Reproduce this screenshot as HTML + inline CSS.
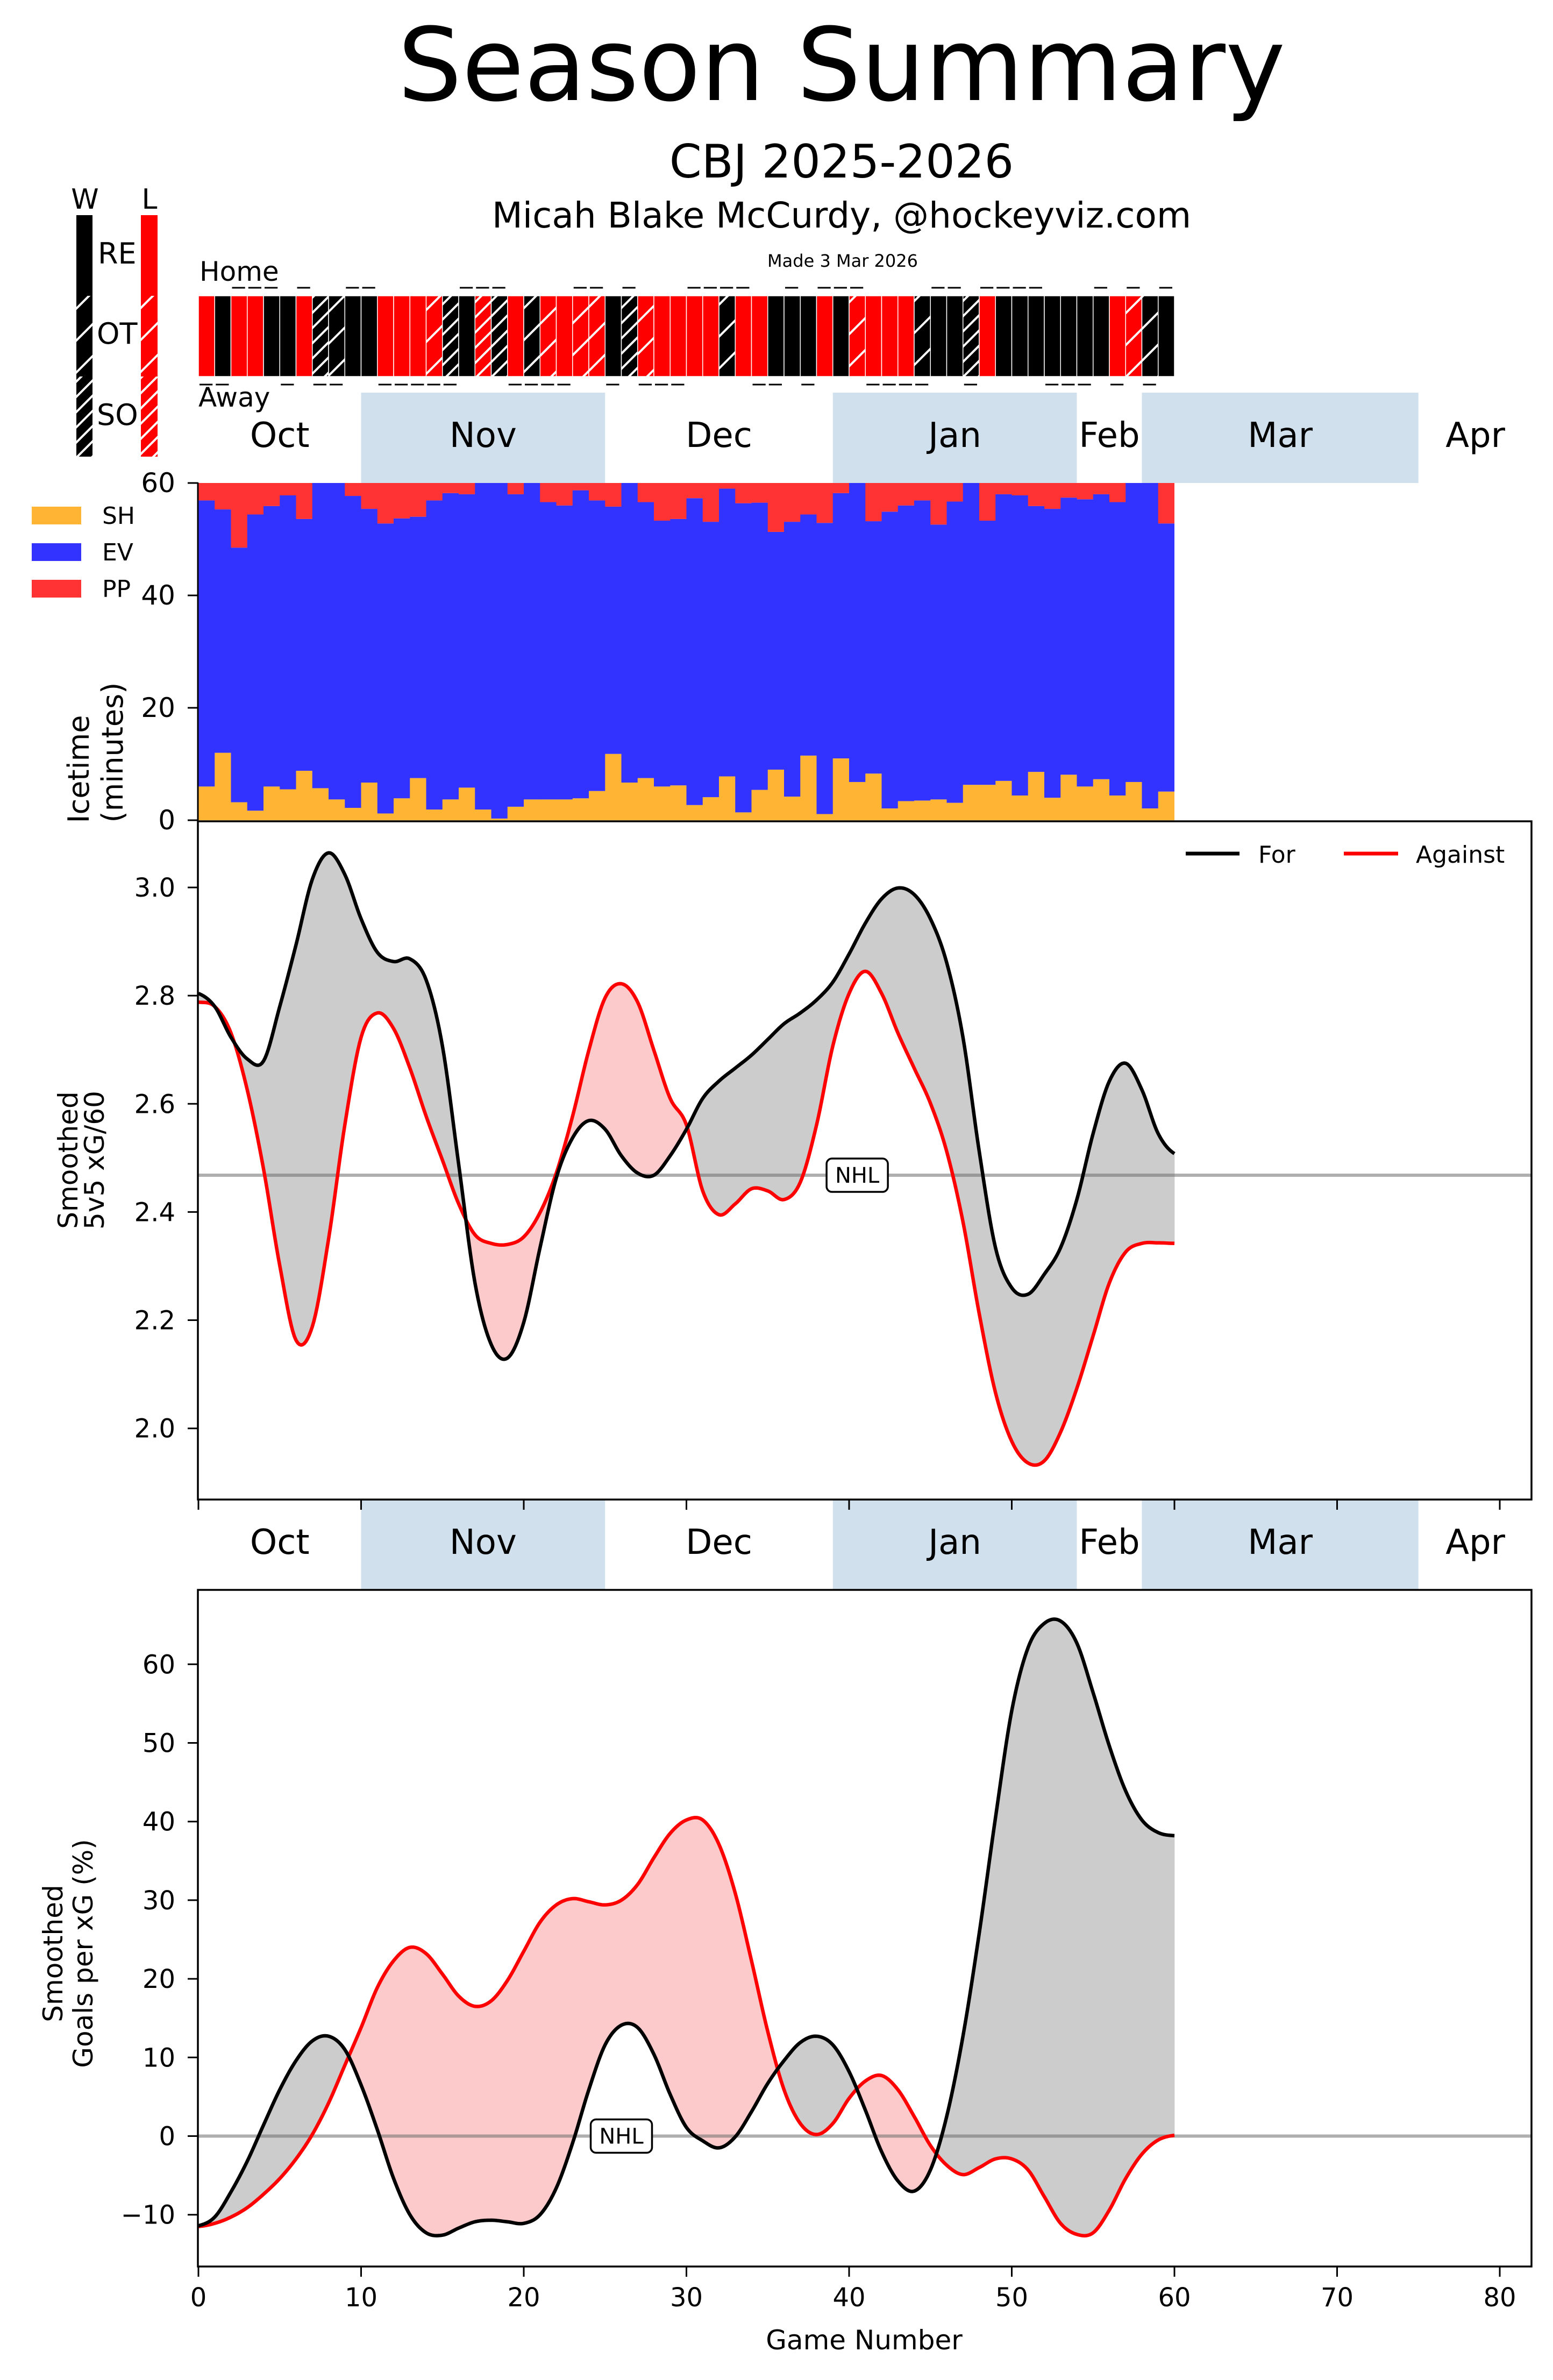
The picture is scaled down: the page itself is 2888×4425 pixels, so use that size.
<!DOCTYPE html>
<html><head><meta charset="utf-8"><style>
html,body{margin:0;padding:0;background:#fff;}
svg{display:block;font-family:"DejaVu Sans","Liberation Sans",sans-serif;}
</style></head><body>
<svg id="fig" width="2888" height="4425" viewBox="0 0 2888 4425" xmlns="http://www.w3.org/2000/svg">
<defs>
<pattern id="otW" patternUnits="userSpaceOnUse" width="42" height="42" patternTransform="rotate(45)"><rect width="42" height="42" fill="#000"/><rect x="0" width="4" height="42" fill="#fff"/></pattern>
<pattern id="soW" patternUnits="userSpaceOnUse" width="20" height="20" patternTransform="rotate(45)"><rect width="20" height="20" fill="#000"/><rect x="0" width="4" height="20" fill="#fff"/></pattern>
<pattern id="otL" patternUnits="userSpaceOnUse" width="42" height="42" patternTransform="rotate(45)"><rect width="42" height="42" fill="#f00"/><rect x="0" width="4" height="42" fill="#fff"/></pattern>
<pattern id="soL" patternUnits="userSpaceOnUse" width="20" height="20" patternTransform="rotate(45)"><rect width="20" height="20" fill="#f00"/><rect x="0" width="4" height="20" fill="#fff"/></pattern>
<clipPath id="iceClip"><rect x="369" y="898" width="1815" height="627"/></clipPath>
<clipPath id="xgClip"><rect x="368" y="1527" width="2480" height="1261"/></clipPath>
<clipPath id="gClip"><rect x="368" y="2956" width="2480" height="1258"/></clipPath>
</defs>
<text x="1565" y="186" font-size="188" text-anchor="middle">Season Summary</text>
<text x="1565" y="330" font-size="86" text-anchor="middle">CBJ 2025-2026</text>
<text x="1565" y="423" font-size="66" text-anchor="middle">Micah Blake McCurdy, @hockeyviz.com</text>
<text x="1567" y="496" font-size="32" text-anchor="middle">Made 3 Mar 2026</text>
<g>
<text x="158" y="388" font-size="52" text-anchor="middle">W</text>
<text x="278" y="388" font-size="52" text-anchor="middle">L</text>
<rect x="142" y="400" width="30" height="150" fill="#000"/>
<rect x="142" y="550" width="30" height="150" fill="url(#otW)"/>
<rect x="142" y="700" width="30" height="149" fill="url(#soW)"/>
<rect x="262" y="400" width="31" height="150" fill="#f00"/>
<rect x="262" y="550" width="31" height="150" fill="url(#otL)"/>
<rect x="262" y="700" width="31" height="149" fill="url(#soL)"/>
<text x="182" y="490" font-size="54">RE</text>
<text x="180" y="639" font-size="54">OT</text>
<text x="180" y="790" font-size="54">SO</text>
</g>
<text x="371" y="522" font-size="50">Home</text>
<text x="369" y="756" font-size="50">Away</text>
<g id="strip"></g>
<g id="bands1"></g>
<g id="bands2"></g>
<g id="ice"></g>
<g id="xg"></g>
<g id="gx"></g>
</svg>
<script>
const results = ["L","W","L","L","W","W","L","WS","WO","W","W","L","L","L","LO","WS","W","LS","WS","L","WO","LO","L","LO","LO","W","WS","LO","L","L","L","L","WO","L","L","W","W","W","L","W","LO","L","L","L","WO","W","W","WS","L","W","W","W","W","W","W","W","L","LO","WO","W"];
const homeAway = ["A","A","H","H","H","A","H","A","A","H","H","A","A","A","A","A","H","H","H","A","A","A","A","H","H","A","H","A","A","A","H","H","H","H","A","A","H","A","H","H","H","A","A","A","A","H","H","A","H","H","H","H","A","A","A","H","A","H","A","H"];
const shToi = [6.0,12.0,3.2,1.7,6.0,5.5,8.8,5.7,3.7,2.2,6.7,1.2,3.9,7.5,1.9,3.7,5.8,1.9,0.3,2.4,3.7,3.7,3.7,3.9,5.2,11.8,6.7,7.5,6.0,6.2,2.7,4.1,7.8,1.4,5.4,9.0,4.2,11.5,1.1,11.0,6.8,8.3,2.1,3.4,3.5,3.7,3.1,6.3,6.3,7.0,4.4,8.6,4.0,8.1,6.0,7.3,4.4,6.8,2.1,5.1];
const evToi = [50.9,43.3,45.3,52.7,49.9,52.3,44.8,54.3,56.3,55.5,48.7,51.6,49.8,46.5,55.0,54.5,52.2,58.1,59.7,55.6,56.3,52.9,52.3,54.8,51.7,44.0,53.3,49.1,47.3,47.4,54.6,49.0,51.2,55.0,51.1,42.3,48.9,42.9,51.8,47.2,53.2,44.9,52.8,52.6,53.4,48.9,53.6,53.7,47.0,51.0,53.4,47.3,51.4,49.3,51.1,50.7,52.2,53.2,57.9,47.7];
const ppToi = [3.1,4.7,11.5,5.6,4.1,2.2,6.4,0,0,2.3,4.6,7.2,6.3,6.0,3.1,1.8,2.0,0,0,2.0,0,3.4,4.0,1.3,3.1,4.2,0,3.4,6.7,6.4,2.7,6.9,1.0,3.6,3.5,8.7,6.9,5.6,7.1,1.8,0,6.8,5.1,4.0,3.1,7.4,3.3,0,6.7,2.0,2.2,4.1,4.6,2.6,2.9,2.0,3.4,0,0,7.2];
const xgFor = [2.804,2.78,2.723,2.683,2.679,2.78,2.894,3.015,3.064,3.024,2.942,2.88,2.863,2.868,2.829,2.707,2.488,2.269,2.155,2.13,2.196,2.334,2.463,2.537,2.569,2.553,2.504,2.472,2.468,2.504,2.553,2.61,2.642,2.666,2.69,2.719,2.748,2.768,2.792,2.825,2.877,2.934,2.979,2.999,2.987,2.942,2.861,2.723,2.512,2.334,2.26,2.248,2.285,2.334,2.423,2.545,2.642,2.675,2.626,2.545,2.508];
const xgAgainst = [2.788,2.78,2.731,2.626,2.48,2.301,2.163,2.188,2.35,2.561,2.723,2.768,2.739,2.666,2.577,2.496,2.415,2.358,2.342,2.34,2.354,2.399,2.472,2.577,2.699,2.796,2.822,2.788,2.699,2.61,2.561,2.439,2.395,2.415,2.443,2.439,2.423,2.455,2.561,2.707,2.804,2.845,2.804,2.731,2.666,2.601,2.512,2.382,2.212,2.066,1.976,1.936,1.94,1.993,2.074,2.171,2.269,2.326,2.342,2.343,2.342];
const gxFor = [-11.4,-10.3,-7.1,-3.2,1.4,5.9,9.6,12.1,12.7,11.0,6.5,0.8,-5.4,-10.0,-12.3,-12.6,-11.7,-10.9,-10.7,-10.9,-11.1,-10.0,-6.6,-0.9,5.9,11.6,14.1,13.8,10.4,5.3,1.1,-0.6,-1.5,-0.1,3.1,6.7,9.6,11.9,12.7,11.6,8.2,3.3,-2.0,-5.7,-7.0,-4.3,2.5,12.7,25.8,40.5,54.1,62.1,65.2,65.5,62.7,56.4,49.6,43.9,40.2,38.6,38.2];
const gxAgainst = [-11.5,-11.1,-10.3,-9.1,-7.4,-5.4,-2.9,0.2,4.2,9.0,13.8,18.9,22.3,24.0,23.2,20.6,17.8,16.5,17.2,19.8,23.5,27.2,29.4,30.2,29.8,29.4,30.0,32.0,35.4,38.5,40.2,40.2,37.1,30.9,22.3,13.3,5.9,1.6,0.2,1.6,4.8,7.0,7.7,5.9,2.5,-1.2,-3.7,-4.9,-4.0,-2.9,-2.9,-4.3,-7.7,-11.1,-12.5,-12.3,-9.4,-5.4,-2.3,-0.5,0.1];
const nhlXg = 2.468;
const nhlGx = 0;
const months = ["Oct","Nov","Dec","Jan","Feb","Mar","Apr"];
const monthStart = [0,10,25,39,54,58,75];
const monthEnd = [10,25,39,54,58,75,82];
const iceTicks = [0,20,40,60];
const xgTicks = [2.0,2.2,2.4,2.6,2.8,3.0];
const gxTicks = [-10,0,10,20,30,40,50,60];
const gameTicks = [0,10,20,30,40,50,60,70,80];

const NS="http://www.w3.org/2000/svg";
function mk(parent,tag,attrs){const e=document.createElementNS(NS,tag);for(const k in attrs)e.setAttribute(k,attrs[k]);parent.appendChild(e);return e;}
const X0=369, GW=30.25;
const gx=g=>X0+g*GW;
const iceY=v=>1525-v*(627/60);
const xgY=v=>1650+(3.0-v)*1005.7;
const gxY=v=>3971.5-v*14.62;
function spline(arr,per){const pts=[];const n=arr.length;
 for(let i=0;i<n-1;i++){const p0=arr[Math.max(0,i-1)],p1=arr[i],p2=arr[i+1],p3=arr[Math.min(n-1,i+2)];
  for(let k=0;k<per;k++){const t=k/per,t2=t*t,t3=t2*t;
   const v=0.5*((2*p1)+(-p0+p2)*t+(2*p0-5*p1+4*p2-p3)*t2+(-p0+3*p1-3*p2+p3)*t3);pts.push([i+t,v]);}}
 pts.push([n-1,arr[n-1]]);return pts;}

const strip=document.getElementById('strip');
const fillFor={W:"#000",L:"#f00",WO:"url(#otW)",LO:"url(#otL)",WS:"url(#soW)",LS:"url(#soL)"};
results.forEach((r,i)=>{
 const b=mk(strip,'rect',{x:gx(i),y:550,width:GW,height:150,fill:fillFor[r],stroke:"#fff","stroke-width":1.5});
 
 
 const yy=homeAway[i]==="H"?535:715;
 const d=mk(strip,'line',{x1:gx(i)+2,x2:gx(i)+GW-4,y1:yy,y2:yy,stroke:"#000","stroke-width":3});
 
 
});

function bands(g,y0,y1,ty){
 months.forEach((m,i)=>{
  if(i%2===1){const r=mk(g,'rect',{x:gx(monthStart[i]),y:y0,width:gx(monthEnd[i])-gx(monthStart[i]),height:y1-y0,fill:"#d0e1ed"});
   
   }
  const t=mk(g,'text',{x:(gx(monthStart[i])+gx(monthEnd[i]))/2,y:ty,"font-size":64,"text-anchor":"middle"});
  t.textContent=m;
  
  
 });
}
bands(document.getElementById('bands1'),730,898,831);
bands(document.getElementById('bands2'),2788,2956,2889);

const ice=document.getElementById('ice');
const iceBars=mk(ice,'g',{"clip-path":"url(#iceClip)"});
shToi.forEach((s,i)=>{
 const e=evToi[i],p=ppToi[i];
 const a=mk(iceBars,'rect',{x:gx(i),y:iceY(s),width:GW+0.5,height:iceY(0)-iceY(s),fill:"#ffb433"});
 
 
 const b=mk(iceBars,'rect',{x:gx(i),y:iceY(s+e),width:GW+0.5,height:iceY(s)-iceY(s+e),fill:"#3333ff"});
 
 
 const c=mk(iceBars,'rect',{x:gx(i),y:iceY(s+e+p+3),width:GW+0.5,height:iceY(s+e)-iceY(s+e+p+3),fill:p>0?"#ff3333":"#3333ff"});
 
 
});
mk(ice,'line',{x1:368,x2:368,y1:897,y2:1527,stroke:"#000","stroke-width":3});
iceTicks.forEach(v=>{
 mk(ice,'line',{x1:349,x2:368,y1:iceY(v),y2:iceY(v),stroke:"#000","stroke-width":3});
 const t=mk(ice,'text',{x:326,y:iceY(v)+17,"font-size":50,"text-anchor":"end"});t.textContent=v;
 
 
});
const leg=[["SH","#ffb433",942],["EV","#3333ff",1010],["PP","#ff3333",1078]];
leg.forEach(l=>{
 const r=mk(ice,'rect',{x:59,y:l[2],width:92,height:33,fill:l[1]});
 
 
 const t=mk(ice,'text',{x:190,y:l[2]+32,"font-size":44});t.textContent=l[0];
 
 
});
let t1=mk(ice,'text',{transform:"translate(165,1430) rotate(-90)","font-size":54,"text-anchor":"middle"});t1.textContent="Icetime";


let t2=mk(ice,'text',{transform:"translate(228,1399) rotate(-90)","font-size":54,"text-anchor":"middle"});t2.textContent="(minutes)";



function panel(g,clip,yf,fore,agst,nhl,ticks,fmt,top,bottom,nhlGame,labels){
 const gc=mk(g,'g',{"clip-path":"url(#"+clip+")"});
 const F=spline(fore,10),A=spline(agst,10);
 for(let i=0;i<F.length-1;i++){
  const x1=gx(F[i][0]),x2=gx(F[i+1][0]);
  const d1=F[i][1]-A[i][1],d2=F[i+1][1]-A[i+1][1];
  const col=v=>v>=0?"#cccccc":"#fccaca";
  if(d1*d2>=0){
   mk(gc,'polygon',{points:`${x1},${yf(F[i][1])} ${x2},${yf(F[i+1][1])} ${x2},${yf(A[i+1][1])} ${x1},${yf(A[i][1])}`,fill:col(d1+d2),stroke:col(d1+d2),"stroke-width":0.8});
  }else{
   const t=d1/(d1-d2),xm=x1+(x2-x1)*t,ym=yf(F[i][1]+(F[i+1][1]-F[i][1])*t);
   mk(gc,'polygon',{points:`${x1},${yf(F[i][1])} ${xm},${ym} ${x1},${yf(A[i][1])}`,fill:col(d1)});
   mk(gc,'polygon',{points:`${xm},${ym} ${x2},${yf(F[i+1][1])} ${x2},${yf(A[i+1][1])}`,fill:col(d2)});
  }
 }
 const nl=mk(gc,'line',{x1:368,x2:2848,y1:yf(nhl),y2:yf(nhl),stroke:"rgba(110,110,110,0.55)","stroke-width":6});
 
 
 const pa=mk(gc,'path',{d:"M"+A.map(p=>gx(p[0])+","+yf(p[1])).join(" L"),fill:"none",stroke:"#f00","stroke-width":6.5,"stroke-linejoin":"round"});
 
 
 const pf=mk(gc,'path',{d:"M"+F.map(p=>gx(p[0])+","+yf(p[1])).join(" L"),fill:"none",stroke:"#000","stroke-width":6.5,"stroke-linejoin":"round"});
 
 
 const bx=gx(nhlGame);
 const nb=mk(g,'rect',{x:bx-57,y:yf(nhl)-31,width:114,height:62,rx:10,fill:"#fff",stroke:"#000","stroke-width":3.5});
 
 
 const nt=mk(g,'text',{x:bx,y:yf(nhl)+14,"font-size":40,"text-anchor":"middle"});nt.textContent="NHL";
 
 
 mk(g,'rect',{x:368,y:top,width:2480,height:bottom-top,fill:"none",stroke:"#000","stroke-width":3.5});
 ticks.forEach(v=>{
  mk(g,'line',{x1:349,x2:368,y1:yf(v),y2:yf(v),stroke:"#000","stroke-width":3});
  const t=mk(g,'text',{x:326,y:yf(v)+17,"font-size":48,"text-anchor":"end"});t.textContent=fmt(v);
  
  
 });
 gameTicks.forEach(v=>{
  mk(g,'line',{x1:gx(v),x2:gx(v),y1:bottom,y2:bottom+19,stroke:"#000","stroke-width":3});
  if(labels){const t=mk(g,'text',{x:gx(v),y:bottom+74,"font-size":48,"text-anchor":"middle"});t.textContent=v;
   
   }
 });
}
const xgG=document.getElementById('xg');
panel(xgG,'xgClip',xgY,xgFor,xgAgainst,nhlXg,xgTicks,v=>v.toFixed(1),1527,2788,40.5,false);
const lf=mk(xgG,'line',{x1:2205,x2:2305,y1:1587,y2:1587,stroke:"#000","stroke-width":7});


const lfT=mk(xgG,'text',{x:2340,y:1604,"font-size":44});lfT.textContent="For";


const la=mk(xgG,'line',{x1:2499,x2:2600,y1:1587,y2:1587,stroke:"#f00","stroke-width":7});


const laT=mk(xgG,'text',{x:2633,y:1604,"font-size":44});laT.textContent="Against";


let a1=mk(xgG,'text',{transform:"translate(144,2157) rotate(-90)","font-size":50,"text-anchor":"middle"});a1.textContent="Smoothed";


let a2=mk(xgG,'text',{transform:"translate(193,2157) rotate(-90)","font-size":50,"text-anchor":"middle"});a2.textContent="5v5 xG/60";



const gG=document.getElementById('gx');
panel(gG,'gClip',gxY,gxFor,gxAgainst,nhlGx,gxTicks,v=>v<0?"\u2212"+Math.abs(v):String(v),2956,4214,26,true);
let b1=mk(gG,'text',{transform:"translate(116,3632) rotate(-90)","font-size":50,"text-anchor":"middle"});b1.textContent="Smoothed";


let b2=mk(gG,'text',{transform:"translate(172,3632) rotate(-90)","font-size":50,"text-anchor":"middle"});b2.textContent="Goals per xG (%)";


let xl=mk(gG,'text',{x:1607,y:4368,"font-size":50,"text-anchor":"middle"});xl.textContent="Game Number";


</script>
</body></html>
